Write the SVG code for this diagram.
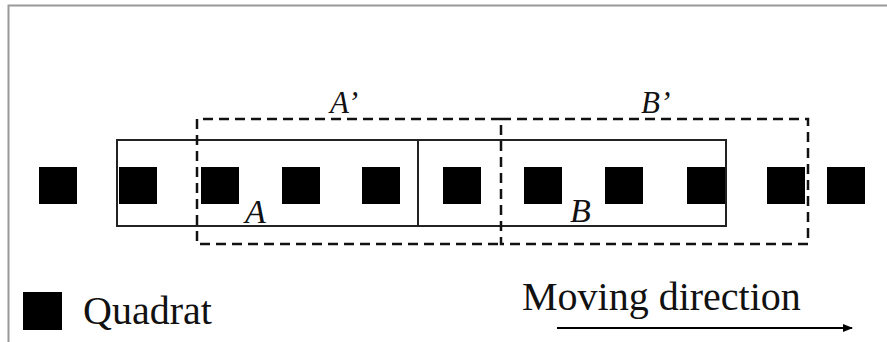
<svg xmlns="http://www.w3.org/2000/svg" width="887" height="342" viewBox="0 0 887 342">
<defs>
<style>
.q{fill:#000}
.solid{fill:none;stroke:#222;stroke-width:2}
.dash{fill:none;stroke:#111;stroke-width:2.5;stroke-dasharray:10,6}
.lbl{font-family:"Liberation Serif",serif;font-style:italic;fill:#111}
.txt{font-family:"Liberation Serif",serif;font-size:40px;fill:#111}
</style>
<marker id="ah" markerWidth="10" markerHeight="8" refX="9" refY="4" orient="auto" markerUnits="userSpaceOnUse">
<path d="M0,0 L10,4 L0,8 Z" fill="#000"/>
</marker>
</defs>
<rect width="887" height="342" fill="#fff"/>
<rect x="8.5" y="5.5" width="900" height="400" fill="none" stroke="#999" stroke-width="2"/>
<g id="quadrats">
<rect class="q" x="39" y="167" width="38" height="37"/>
<rect class="q" x="119" y="167" width="38" height="37"/>
<rect class="q" x="201" y="167" width="38" height="37"/>
<rect class="q" x="282" y="167" width="38" height="37"/>
<rect class="q" x="362" y="167" width="38" height="37"/>
<rect class="q" x="443" y="167" width="38" height="37"/>
<rect class="q" x="524" y="167" width="38" height="37"/>
<rect class="q" x="605" y="167" width="38" height="37"/>
<rect class="q" x="687" y="167" width="38" height="37"/>
<rect class="q" x="767" y="167" width="38" height="37"/>
<rect class="q" x="827" y="167" width="38" height="37"/>
</g>
<g id="windowA">
<rect class="solid" x="117" y="140" width="301" height="86"/>
<text class="lbl" x="245" y="223" font-size="34">A</text>
</g>
<g id="windowB">
<rect class="solid" x="418" y="140" width="308" height="86"/>
<text class="lbl" x="570" y="222" font-size="34">B</text>
</g>
<g id="windowA2">
<path class="dash" d="M501,119 H197 V244 H501"/>
<text class="lbl" x="330" y="113" font-size="31">A’</text>
</g>
<g id="windowB2">
<rect class="dash" x="501" y="119" width="307" height="125"/>
<text class="lbl" x="641" y="113" font-size="31">B’</text>
</g>
<g id="legend">
<rect class="q" x="23" y="292" width="39" height="38"/>
<text class="txt" x="83" y="324">Quadrat</text>
</g>
<g id="connectors">
<line x1="557" y1="328" x2="852" y2="328" stroke="#000" stroke-width="2" marker-end="url(#ah)"/>
</g>
<text class="txt" x="522" y="310">Moving direction</text>
</svg>
